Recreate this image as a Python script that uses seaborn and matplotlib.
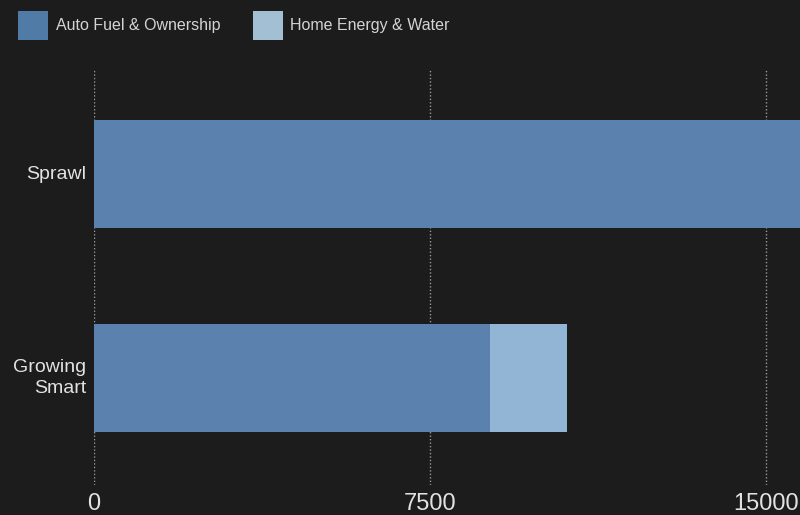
import matplotlib
matplotlib.use("Agg")
import matplotlib.pyplot as plt
import seaborn as sns
import pandas as pd
from matplotlib.patches import Patch

categories = ["Sprawl", "Growing\nSmart"]
auto_fuel = [16000, 8850]
home_energy = [1000, 1700]
series_names = ["Auto Fuel & Ownership", "Home Energy & Water"]
x_ticks = [0, 7500, 15000]

BG = "#1c1c1c"
C_AUTO = "#5b81ae"
C_HOME = "#93b5d5"

sns.set_theme(style="dark")
plt.rcParams["font.family"] = ["Liberation Sans", "DejaVu Sans"]

df = pd.DataFrame({
    "category": categories,
    "auto": auto_fuel,
    "total": [a + h for a, h in zip(auto_fuel, home_energy)],
})

fig = plt.figure(figsize=(8, 5.15), dpi=100, facecolor=BG)
ax = fig.add_axes([94 / 800, 1 - 485 / 515, (800 - 94) / 800, (485 - 70) / 515])
ax.set_facecolor(BG)

sns.barplot(data=df, x="total", y="category", color=C_HOME, saturation=1,
            width=0.53, ax=ax, zorder=3, linewidth=0, edgecolor="none")
sns.barplot(data=df, x="auto", y="category", color=C_AUTO, saturation=1,
            width=0.53, ax=ax, zorder=3, linewidth=0, edgecolor="none")

ax.set_xlim(0, 15760)
ax.set_ylim(1.524, -0.51)
ax.set_xticks(x_ticks)
ax.set_xticklabels([str(t) for t in x_ticks])
ax.set_xlabel("")
ax.set_ylabel("")
for t in x_ticks:
    ax.axvline(t, color="#9a9a9a", lw=1.0, ls=(0, (1, 1.5)), zorder=1)
ax.grid(False)
for s in ax.spines.values():
    s.set_visible(False)
ax.tick_params(axis="x", length=0, pad=5.5, labelsize=17, labelcolor="#e2e2e2")
ax.tick_params(axis="y", length=0, pad=5.8, labelsize=14, labelcolor="#e2e2e2")
for lbl in ax.get_yticklabels():
    lbl.set_horizontalalignment("right")
    lbl.set_multialignment("right")
    lbl.set_linespacing(1.25)
    lbl.set_verticalalignment("center")

handles = [Patch(facecolor="#4f7ba6", edgecolor="none"),
           Patch(facecolor="#a3bfd4", edgecolor="none")]
fig.legend(handles, series_names, loc="upper left", bbox_to_anchor=(18 / 800, 1 - 11 / 515),
           ncol=2, frameon=False, fontsize=11.5, labelcolor="#d4d4d4",
           handlelength=1.9, handleheight=2.4, handletextpad=0.45,
           columnspacing=2.05, borderpad=0, borderaxespad=0)

fig.savefig("out.png", dpi=100, facecolor=BG)
